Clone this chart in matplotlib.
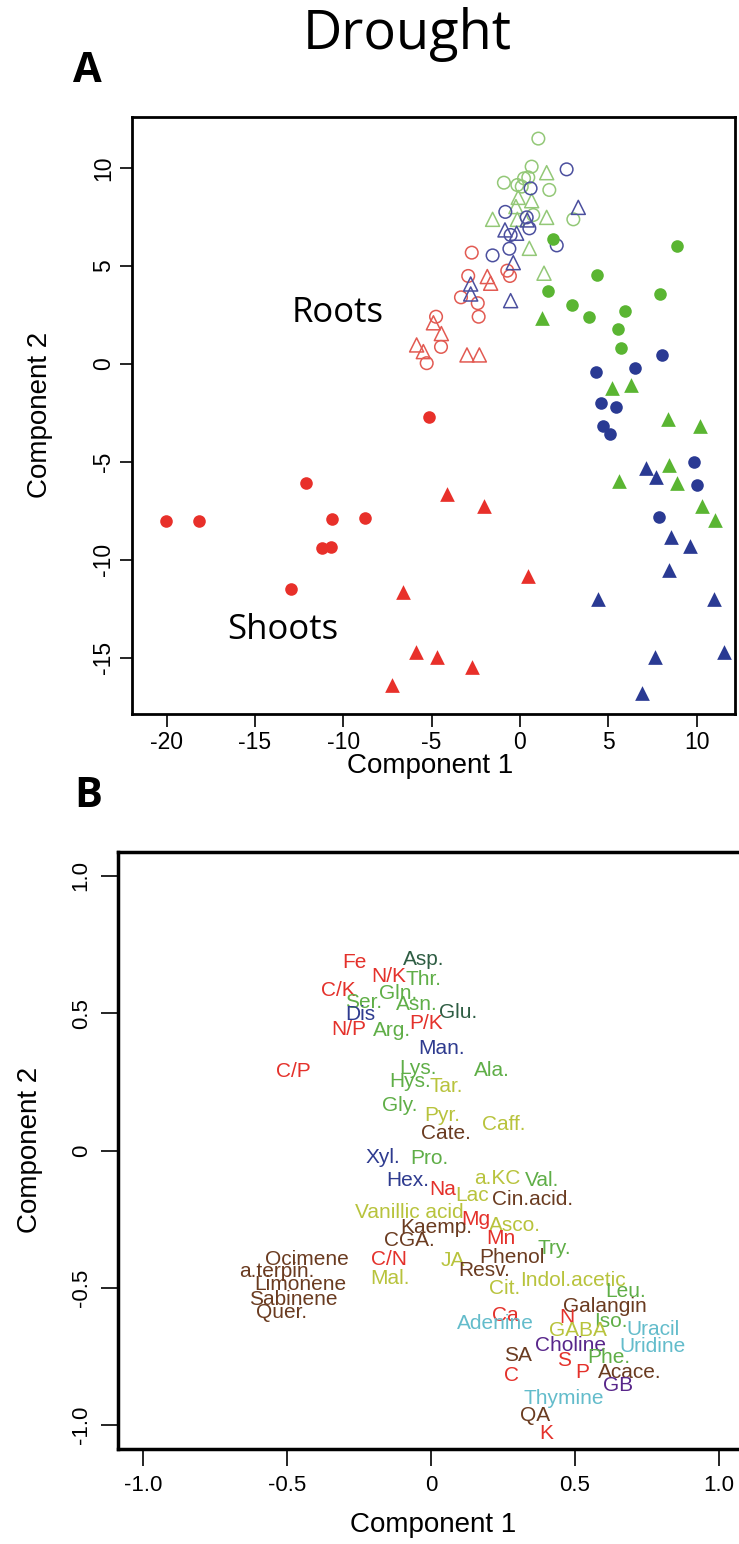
import matplotlib
matplotlib.use("Agg")
import matplotlib.pyplot as plt

plt.rcParams['font.family'] = ['Liberation Sans', 'DejaVu Sans']
plt.rcParams['axes.unicode_minus'] = False

# ---- panel A: scores (roots = open, shoots = filled) ----
root_red_circ_x = [-2.73, -2.93, -0.57, -0.72, -3.34, -2.39, -4.75, -2.34, -4.47, -5.28]
root_red_circ_y = [5.68, 4.49, 4.49, 4.76, 3.40, 3.10, 2.41, 2.41, 0.87, 0.04]
root_red_tri_x = [-1.85, -1.66, -4.90, -4.45, -5.85, -5.47, -3.00, -2.30]
root_red_tri_y = [4.46, 4.12, 2.10, 1.55, 0.97, 0.63, 0.46, 0.46]
root_green_circ_x = [1.04, 0.66, -0.91, -0.15, 0.23, 0.47, 0.10, 1.66, 3.02, 0.75]
root_green_circ_y = [11.5, 10.07, 9.25, 9.13, 9.47, 9.52, 9.05, 8.88, 7.38, 7.60]
root_green_tri_x = [1.51, -0.10, 0.66, -0.23, -1.55, -0.15, 1.51, 0.53, 1.36]
root_green_tri_y = [9.76, 8.50, 8.33, 8.03, 7.38, 7.38, 7.48, 5.90, 4.63]
root_blue_circ_x = [2.64, 0.60, -0.83, 0.38, 0.53, -0.53, 2.08, -0.60, -1.55]
root_blue_circ_y = [9.93, 8.96, 7.76, 7.48, 6.92, 6.58, 6.05, 5.88, 5.54]
root_blue_tri_x = [3.30, -0.85, -0.19, 0.41, -0.38, -2.79, -2.79, -0.53]
root_blue_tri_y = [7.99, 6.84, 6.67, 7.35, 5.17, 4.08, 3.57, 3.23]

shoot_red_circ_x = [-20.03, -18.15, -12.10, -10.62, -8.75, -11.22, -10.70, -12.94, -5.15]
shoot_red_circ_y = [-8.00, -8.00, -6.07, -7.92, -7.84, -9.40, -9.32, -11.46, -2.70]
shoot_red_tri_x = [-4.13, -2.04, 0.47, -6.64, -5.89, -4.70, -2.72, -7.26]
shoot_red_tri_y = [-6.63, -7.24, -10.80, -11.63, -14.68, -14.95, -15.46, -16.38]
shoot_green_circ_x = [1.89, 4.38, 1.57, 2.97, 3.92, 5.94, 5.52, 5.71, 7.90, 8.88]
shoot_green_circ_y = [6.39, 4.52, 3.73, 3.03, 2.41, 2.72, 1.80, 0.81, 3.56, 6.02]
shoot_green_tri_x = [1.22, 5.22, 6.28, 8.36, 10.17, 8.43, 5.60, 8.88, 10.30, 11.05]
shoot_green_tri_y = [2.35, -1.22, -1.09, -2.83, -3.18, -5.17, -5.95, -6.09, -7.27, -7.96]
shoot_blue_circ_x = [8.01, 6.49, 4.33, 4.60, 5.43, 4.68, 5.12, 9.84, 10.03, 7.88]
shoot_blue_circ_y = [0.47, -0.20, -0.43, -2.00, -2.20, -3.18, -3.57, -5.00, -6.16, -7.83]
shoot_blue_tri_x = [7.15, 7.68, 4.41, 8.53, 9.60, 8.45, 10.96, 7.64, 11.57, 6.88]
shoot_blue_tri_y = [-5.30, -5.78, -12.00, -8.83, -9.27, -10.50, -12.00, -14.96, -14.70, -16.80]

# ---- panel B: loadings ----
loading_names = ['Asp.', 'Fe', 'N/K', 'Thr.', 'C/K', 'Gln.', 'Ser.', 'Asn.', 'Glu.', 'Dis',
                 'N/P', 'Arg.', 'P/K', 'Man.', 'C/P', 'Lys.', 'Ala.', 'Hys.', 'Tar.', 'Gly.',
                 'Pyr.', 'Caff.', 'Cate.', 'Xyl.', 'Pro.', 'Hex.', 'a.KC', 'Val.', 'Na', 'Lac',
                 'Cin.acid.', 'Vanillic acid', 'Mg', 'Asco.', 'Kaemp.', 'CGA.', 'Mn', 'Try.', 'C/N', 'JA',
                 'Phenol', 'Resv.', 'Mal.', 'Indol.acetic', 'Cit.', 'Leu.', 'Galangin', 'Ca', 'Adenine', 'N',
                 'Iso.', 'Uracil', 'GABA', 'Choline', 'Uridine', 'SA', 'S', 'Phe.', 'C', 'P',
                 'Acace.', 'GB', 'Thymine', 'QA', 'K', 'Ocimene', 'a.terpin.', 'Limonene', 'Sabinene', 'Quer.']
loading_x = [-0.026, -0.266, -0.148, -0.027, -0.320, -0.114, -0.235, -0.050, 0.095, -0.247,
             -0.287, -0.136, -0.018, 0.037, -0.478, -0.044, 0.210, -0.073, 0.054, -0.110,
             0.040, 0.251, 0.052, -0.168, -0.004, -0.079, 0.232, 0.386, 0.040, 0.143,
             0.353, -0.074, 0.155, 0.290, 0.019, -0.074, 0.244, 0.428, -0.145, 0.076,
             0.282, 0.186, -0.143, 0.492, 0.256, 0.677, 0.604, 0.257, 0.222, 0.473,
             0.624, 0.772, 0.511, 0.483, 0.770, 0.303, 0.463, 0.616, 0.278, 0.527,
             0.691, 0.650, 0.462, 0.361, 0.402, -0.432, -0.536, -0.455, -0.478, -0.518]
loading_y = [0.697, 0.685, 0.634, 0.622, 0.583, 0.571, 0.539, 0.531, 0.503, 0.495,
             0.442, 0.437, 0.461, 0.373, 0.288, 0.300, 0.292, 0.250, 0.232, 0.165,
             0.127, 0.095, 0.062, -0.026, -0.030, -0.108, -0.102, -0.108, -0.143, -0.163,
             -0.180, -0.226, -0.250, -0.274, -0.280, -0.328, -0.322, -0.356, -0.397, -0.399,
             -0.389, -0.437, -0.467, -0.473, -0.504, -0.513, -0.568, -0.602, -0.629, -0.609,
             -0.624, -0.651, -0.657, -0.709, -0.712, -0.748, -0.764, -0.754, -0.821, -0.808,
             -0.808, -0.857, -0.903, -0.966, -1.030, -0.396, -0.442, -0.487, -0.542, -0.590]
loading_class = ['aa2', 'elem', 'elem', 'aa', 'elem', 'aa', 'aa', 'aa', 'aa2', 'sugar',
                 'elem', 'aa', 'elem', 'sugar', 'elem', 'aa', 'aa', 'aa', 'acid', 'aa',
                 'acid', 'acid', 'phen', 'sugar', 'aa', 'sugar', 'acid', 'aa', 'elem', 'acid',
                 'phen', 'acid', 'elem', 'acid', 'phen', 'phen', 'elem', 'aa', 'elem', 'acid',
                 'phen', 'phen', 'acid', 'acid', 'acid', 'aa', 'phen', 'elem', 'nucl', 'elem',
                 'aa', 'nucl', 'acid', 'quat', 'nucl', 'phen', 'elem', 'aa', 'elem', 'elem',
                 'phen', 'quat', 'nucl', 'phen', 'elem', 'phen', 'phen', 'phen', 'phen', 'phen']

class_colors = {'elem': '#e4312b', 'aa': '#5fae47', 'aa2': '#2e5d43', 'sugar': '#2e3b8f',
                'acid': '#b8c33c', 'phen': '#6a3b20', 'nucl': '#63bccb', 'quat': '#58268a'}

RED, GREEN, BLUE = '#e8302a', '#5ab532', '#2a3a93'
RED_O, GREEN_O, BLUE_O = '#e25a52', '#93c877', '#4b4f9e'

fig = plt.figure(figsize=(7.39, 15.44), dpi=100)

# panel A
axA = fig.add_axes([0.1786, 0.5376, 0.8160, 0.3866])
ms = 82
axA.scatter(root_red_circ_x, root_red_circ_y, s=ms, marker='o', facecolors='none', edgecolors=RED_O, linewidths=1.1)
axA.scatter(root_red_tri_x, root_red_tri_y, s=ms + 20, marker='^', facecolors='none', edgecolors=RED_O, linewidths=1.1)
axA.scatter(root_green_circ_x, root_green_circ_y, s=ms, marker='o', facecolors='none', edgecolors=GREEN_O, linewidths=1.1)
axA.scatter(root_green_tri_x, root_green_tri_y, s=ms + 20, marker='^', facecolors='none', edgecolors=GREEN_O, linewidths=1.1)
axA.scatter(root_blue_circ_x, root_blue_circ_y, s=ms, marker='o', facecolors='none', edgecolors=BLUE_O, linewidths=1.1)
axA.scatter(root_blue_tri_x, root_blue_tri_y, s=ms + 20, marker='^', facecolors='none', edgecolors=BLUE_O, linewidths=1.1)
axA.scatter(shoot_red_circ_x, shoot_red_circ_y, s=ms, marker='o', color=RED, linewidths=0)
axA.scatter(shoot_red_tri_x, shoot_red_tri_y, s=ms + 30, marker='^', color=RED, linewidths=0)
axA.scatter(shoot_green_circ_x, shoot_green_circ_y, s=ms, marker='o', color=GREEN, linewidths=0)
axA.scatter(shoot_green_tri_x, shoot_green_tri_y, s=ms + 30, marker='^', color=GREEN, linewidths=0)
axA.scatter(shoot_blue_circ_x, shoot_blue_circ_y, s=ms, marker='o', color=BLUE, linewidths=0)
axA.scatter(shoot_blue_tri_x, shoot_blue_tri_y, s=ms + 30, marker='^', color=BLUE, linewidths=0)

axA.set_xlim(-21.96, 12.17)
axA.set_ylim(-17.86, 12.6)
axA.set_xticks([-20, -15, -10, -5, 0, 5, 10])
axA.set_yticks([-15, -10, -5, 0, 5, 10])
axA.set_yticklabels(['-15', '-10', '-5', '0', '5', '10'], rotation=90, va='center')
axA.tick_params(length=9, width=1.2, labelsize=16.5, pad=3)
for sp in axA.spines.values():
    sp.set_linewidth(2)
axA.text(-10.3, 2.6, 'Roots', fontsize=25, family='Open Sans', ha='center', va='center')
axA.text(-13.4, -13.6, 'Shoots', fontsize=25, family='Open Sans', ha='center', va='center')

fig.text(430 / 739, 1 - 766 / 1544, 'Component 1', fontsize=20, ha='center', va='center')
fig.text(40 / 739, 1 - 415 / 1544, 'Component 2', fontsize=20, ha='center', va='center', rotation=90)

# panel B
axB = fig.add_axes([0.1597, 0.0615, 0.8470, 0.3867])
for name, x, y, c in zip(loading_names, loading_x, loading_y, loading_class):
    axB.text(x, y, name, color=class_colors[c], fontsize=15, ha='center', va='center')
axB.set_xlim(-1.087, 1.087)
axB.set_ylim(-1.087, 1.087)
axB.set_xticks([-1.0, -0.5, 0, 0.5, 1.0])
axB.set_xticklabels(['-1.0', '-0.5', '0', '0.5', '1.0'])
axB.set_yticks([-1.0, -0.5, 0, 0.5, 1.0])
axB.set_yticklabels(['-1.0', '-0.5', '0', '0.5', '1.0'], rotation=90, va='center')
axB.tick_params(length=12, width=1.2, labelsize=16, pad=7)
for sp in axB.spines.values():
    sp.set_linewidth(2.5)

fig.text(433 / 739, 1 - 1525 / 1544, 'Component 1', fontsize=20, ha='center', va='center')
fig.text(30 / 739, 1 - 1150 / 1544, 'Component 2', fontsize=20, ha='center', va='center', rotation=90)

fig.text(407 / 739, 1 - 35 / 1544, 'Drought', fontsize=39, family='Open Sans', ha='center', va='center')
fig.text(87 / 739, 1 - 72 / 1544, 'A', fontsize=30, family='Open Sans', weight='bold', ha='center', va='center')
fig.text(88 / 739, 1 - 797 / 1544, 'B', fontsize=30, family='Open Sans', weight='bold', ha='center', va='center')

fig.savefig('out.png', dpi=100, facecolor='white')
